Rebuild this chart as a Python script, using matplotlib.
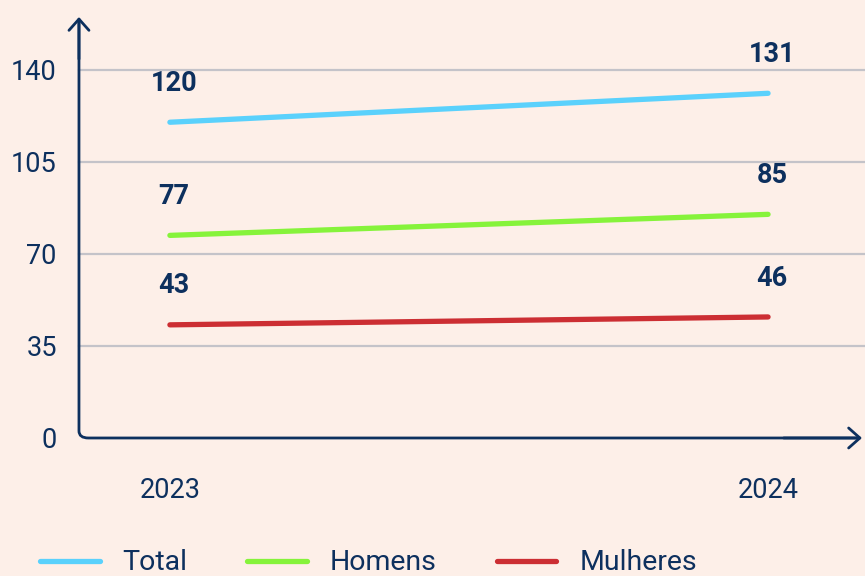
import matplotlib
matplotlib.use("Agg")
import matplotlib.pyplot as plt
from matplotlib.path import Path
from matplotlib.patches import PathPatch

plt.rcParams['font.family'] = ['Roboto', 'DejaVu Sans']

years = ['2023', '2024']
series_names = ['Total', 'Homens', 'Mulheres']
total = [120, 131]
homens = [77, 85]
mulheres = [43, 46]
y_ticks = [0, 35, 70, 105, 140]

bg = '#fdefe8'
navy = '#0d305e'
colors = ['#5ad1fc', '#86f33b', '#cc2e33']
grid_c = '#c4c3c9'

fig = plt.figure(figsize=(8.65, 5.76), dpi=100, facecolor=bg)
ax = fig.add_axes([0.0913, 0.2396, 0.9052, 0.7309])
ax.set_facecolor(bg)
ax.set_xlim(-0.152, 1.157)
ax.set_ylim(0, 160)

for v in y_ticks[1:]:
    ax.axhline(v, xmin=0, xmax=1.01, color=grid_c, lw=1.6, clip_on=False, zorder=1)

x = list(range(len(years)))
for name, vals, c in zip(series_names, [total, homens, mulheres], colors):
    ax.plot(x, vals, color=c, lw=3.8, solid_capstyle='round', label=name, zorder=3)
    for xi, v in zip(x, vals):
        ax.annotate(str(v), (xi, v), xytext=(3, 28), textcoords='offset points',
                    ha='center', va='center', fontsize=19.5, fontweight='bold', color=navy)

for s in ax.spines.values():
    s.set_visible(False)

# axes drawn by hand: rounded corner + arrow heads
r = 0.012
verts = [(0, 0.99), (0, r * 1.4), (0, 0), (r, 0), (0.995, 0)]
codes = [Path.MOVETO, Path.LINETO, Path.CURVE3, Path.CURVE3, Path.LINETO]
ax.add_patch(PathPatch(Path(verts, codes), transform=ax.transAxes, fill=False,
                       edgecolor=navy, lw=2, clip_on=False, zorder=4))
arrow = dict(arrowstyle='->,head_length=0.45,head_width=0.4', color=navy, lw=2,
             mutation_scale=18, shrinkA=0, shrinkB=0)
ax.annotate('', xy=(0, 1.0), xytext=(0, 0.9), xycoords='axes fraction', arrowprops=arrow)
ax.annotate('', xy=(1.0, 0), xytext=(0.9, 0), xycoords='axes fraction', arrowprops=arrow)

ax.set_yticks(y_ticks)
ax.set_yticklabels([str(t) for t in y_ticks])
ax.set_xticks(x)
ax.set_xticklabels(years)
ax.tick_params(axis='y', length=0, pad=16, labelsize=19.5, labelcolor=navy)
ax.tick_params(axis='x', length=0, pad=28, labelsize=19.5, labelcolor=navy)

fig.legend(loc='center left', bbox_to_anchor=(40 / 865, 1 - 563 / 576), ncol=3,
           frameon=False, fontsize=20.5, labelcolor=navy, handlelength=2.1,
           handletextpad=0.8, columnspacing=2.1, borderpad=0, borderaxespad=0)

fig.savefig('out.png', dpi=100, facecolor=bg)
